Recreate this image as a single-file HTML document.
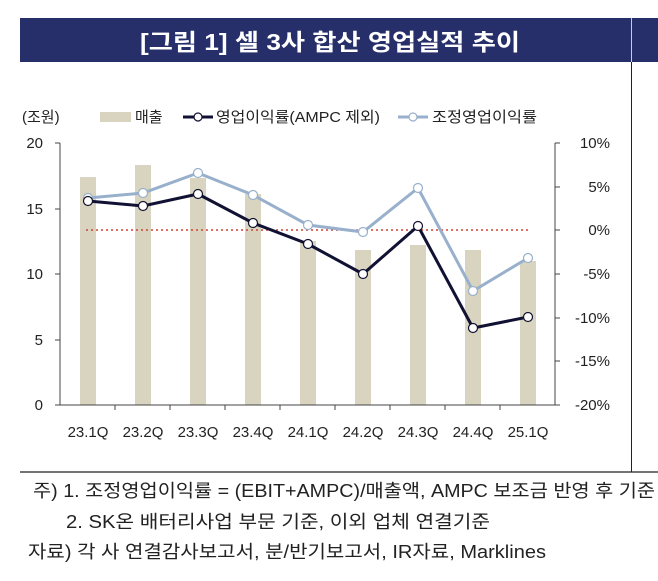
<!DOCTYPE html>
<html><head><meta charset="utf-8"><style>
html,body{margin:0;padding:0;background:#fff;}
svg{display:block;font-family:"Liberation Sans","Noto Sans CJK KR",sans-serif;}
</style></head><body>
<svg width="658" height="581" viewBox="0 0 658 581" xmlns="http://www.w3.org/2000/svg">
<rect x="20" y="18" width="638" height="44" fill="#262f6a"/>
<line x1="631.5" y1="18" x2="631.5" y2="472" stroke="#222" stroke-width="1"/>
<line x1="631.5" y1="18" x2="631.5" y2="62" stroke="#c8cce0" stroke-width="1"/>
<text x="330" y="50" fill="#fff" font-size="23" font-weight="bold" text-anchor="middle" textLength="380" lengthAdjust="spacingAndGlyphs">[그림 1] 셀 3사 합산 영업실적 추이</text>
<line x1="20" y1="472" x2="658" y2="472" stroke="#222" stroke-width="1.2"/>

<!-- legend -->
<text x="22" y="122" font-size="15" fill="#222">(조원)</text>
<rect x="100" y="112" width="31" height="10" fill="#d9d4bf"/>
<text x="135" y="122" font-size="15" fill="#222">매출</text>
<line x1="183" y1="117" x2="213" y2="117" stroke="#111133" stroke-width="3"/>
<circle cx="198" cy="117" r="4" fill="#fff" stroke="#111133" stroke-width="1.2"/>
<text x="216" y="122" font-size="15" fill="#222" textLength="164" lengthAdjust="spacingAndGlyphs">영업이익률(AMPC 제외)</text>
<line x1="398" y1="117" x2="428" y2="117" stroke="#98b0cc" stroke-width="3"/>
<circle cx="413" cy="117" r="4" fill="#fff" stroke="#98b0cc" stroke-width="1.2"/>
<text x="432" y="122" font-size="15" fill="#222" textLength="105" lengthAdjust="spacingAndGlyphs">조정영업이익률</text>

<!-- bars -->
<g fill="#d9d4bf">
<rect x="80" y="177" width="16" height="228"/>
<rect x="135" y="165" width="16" height="240"/>
<rect x="190" y="178" width="16" height="227"/>
<rect x="245" y="194" width="16" height="211"/>
<rect x="300" y="241" width="16" height="164"/>
<rect x="355" y="250" width="16" height="155"/>
<rect x="410" y="245" width="16" height="160"/>
<rect x="465" y="250" width="16" height="155"/>
<rect x="520" y="261" width="16" height="144"/>
</g>

<!-- axes -->
<g stroke="#444" stroke-width="1" fill="none">
<line x1="60" y1="143" x2="60" y2="405"/>
<line x1="555" y1="143" x2="555" y2="405"/>
<line x1="60" y1="405" x2="555" y2="405"/>
<line x1="55" y1="143" x2="60" y2="143"/><line x1="55" y1="209" x2="60" y2="209"/><line x1="55" y1="274" x2="60" y2="274"/><line x1="55" y1="340" x2="60" y2="340"/><line x1="55" y1="405" x2="60" y2="405"/>
<line x1="555" y1="143" x2="560" y2="143"/><line x1="555" y1="187" x2="560" y2="187"/><line x1="555" y1="230" x2="560" y2="230"/><line x1="555" y1="274" x2="560" y2="274"/><line x1="555" y1="318" x2="560" y2="318"/><line x1="555" y1="361" x2="560" y2="361"/><line x1="555" y1="405" x2="560" y2="405"/>
<line x1="115" y1="405" x2="115" y2="410"/><line x1="170" y1="405" x2="170" y2="410"/><line x1="225" y1="405" x2="225" y2="410"/><line x1="280" y1="405" x2="280" y2="410"/><line x1="335" y1="405" x2="335" y2="410"/><line x1="390" y1="405" x2="390" y2="410"/><line x1="445" y1="405" x2="445" y2="410"/><line x1="500" y1="405" x2="500" y2="410"/>
</g>
<g font-size="15" fill="#222" text-anchor="end">
<text x="43" y="148">20</text><text x="43" y="214">15</text><text x="43" y="279">10</text><text x="43" y="345">5</text><text x="43" y="410">0</text>
</g>
<g font-size="15" fill="#222" text-anchor="end">
<text x="610" y="148">10%</text><text x="610" y="192">5%</text><text x="610" y="235">0%</text><text x="610" y="279">-5%</text><text x="610" y="323">-10%</text><text x="610" y="366">-15%</text><text x="610" y="410">-20%</text>
</g>
<g font-size="15" fill="#222" text-anchor="middle">
<text x="88" y="437">23.1Q</text><text x="143" y="437">23.2Q</text><text x="198" y="437">23.3Q</text><text x="253" y="437">23.4Q</text><text x="308" y="437">24.1Q</text><text x="363" y="437">24.2Q</text><text x="418" y="437">24.3Q</text><text x="473" y="437">24.4Q</text><text x="528" y="437">25.1Q</text>
</g>

<line x1="86" y1="230" x2="528" y2="230" stroke="#d04030" stroke-width="1.5" stroke-dasharray="2,3"/>

<polyline fill="none" stroke="#98b0cc" stroke-width="3" points="88,198 143,193 198,173 253,195 308,225 363,232 418,188 473,291 528,258"/>
<g fill="#fff" stroke="#98b0cc" stroke-width="1.2">
<circle cx="88" cy="198" r="4.5"/><circle cx="143" cy="193" r="4.5"/><circle cx="198" cy="173" r="4.5"/><circle cx="253" cy="195" r="4.5"/><circle cx="308" cy="225" r="4.5"/><circle cx="363" cy="232" r="4.5"/><circle cx="418" cy="188" r="4.5"/><circle cx="473" cy="291" r="4.5"/><circle cx="528" cy="258" r="4.5"/>
</g>
<polyline fill="none" stroke="#111133" stroke-width="3" points="88,201 143,206 198,194 253,223 308,244 363,274 418,226 473,328 528,317"/>
<g fill="#fff" stroke="#111133" stroke-width="1.2">
<circle cx="88" cy="201" r="4.5"/><circle cx="143" cy="206" r="4.5"/><circle cx="198" cy="194" r="4.5"/><circle cx="253" cy="223" r="4.5"/><circle cx="308" cy="244" r="4.5"/><circle cx="363" cy="274" r="4.5"/><circle cx="418" cy="226" r="4.5"/><circle cx="473" cy="328" r="4.5"/><circle cx="528" cy="317" r="4.5"/>
</g>

<g font-size="18" fill="#222">
<text x="33" y="497" textLength="622" lengthAdjust="spacingAndGlyphs">주) 1. 조정영업이익률 = (EBIT+AMPC)/매출액, AMPC 보조금 반영 후 기준</text>
<text x="66" y="528" textLength="424" lengthAdjust="spacingAndGlyphs">2. SK온 배터리사업 부문 기준, 이외 업체 연결기준</text>
<text x="28" y="558" textLength="518" lengthAdjust="spacingAndGlyphs">자료) 각 사 연결감사보고서, 분/반기보고서, IR자료, Marklines</text>
</g>
</svg>
</body></html>
